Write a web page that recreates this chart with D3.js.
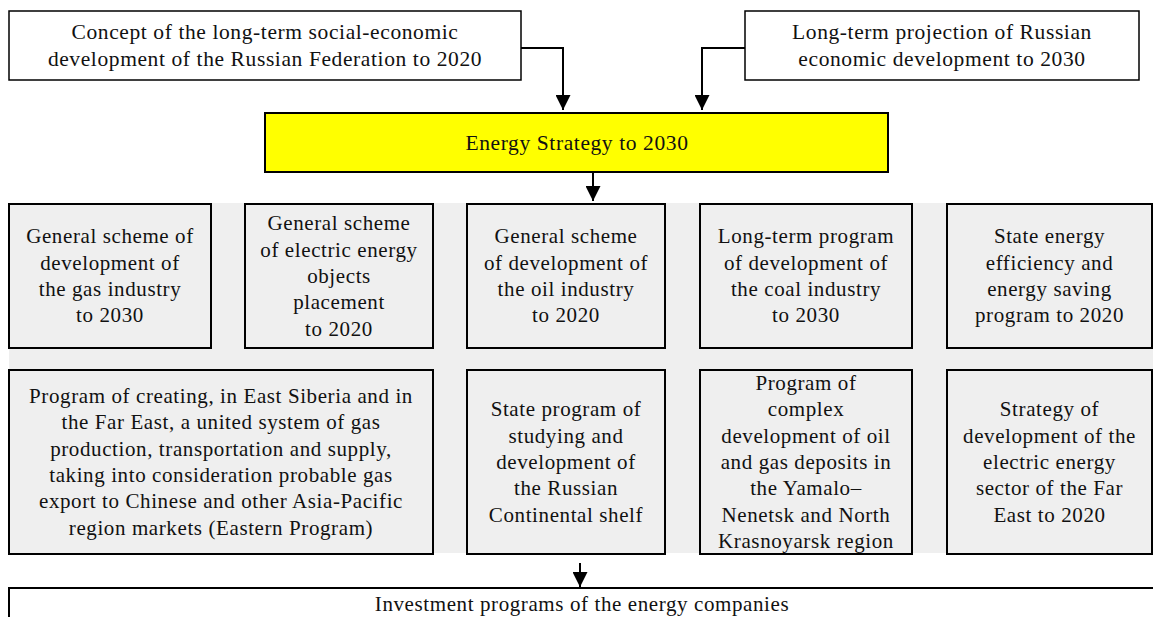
<!DOCTYPE html>
<html>
<head>
<meta charset="utf-8">
<script src="https://cdn.jsdelivr.net/npm/d3@7"></script>
<style>
  body { margin: 0; background: #fff; }
  text { font-family: "Liberation Serif", "DejaVu Serif", serif; fill: #111; letter-spacing: 0.6px; }
</style>
</head>
<body>
<div id="chart-area"></div>
<script>
const WIDTH = 1153
const HEIGHT = 617
const LINE = 26.3

// Texts
const sourceDocs = [
  "Concept of the long-term social-economic\ndevelopment of the Russian Federation to 2020",
  "Long-term projection of Russian\neconomic development to 2030"
]
const strategy = "Energy Strategy to 2030"
const schemes = [
  "General scheme of\ndevelopment of\nthe gas industry\nto 2030",
  "General scheme\nof electric energy\nobjects\nplacement\nto 2020",
  "General scheme\nof development of\nthe oil industry\nto 2020",
  "Long-term program\nof development of\nthe coal industry\nto 2030",
  "State energy\nefficiency and\nenergy saving\nprogram to 2020"
]
const programs = [
  "Program of creating, in East Siberia and in\nthe Far East, a united system of gas\nproduction, transportation and supply,\ntaking into consideration probable gas\nexport to Chinese and other Asia-Pacific\nregion markets (Eastern Program)",
  "State program of\nstudying and\ndevelopment of\nthe Russian\nContinental shelf",
  "Program of\ncomplex\ndevelopment of oil\nand gas deposits in\nthe Yamalo–\nNenetsk and North\nKrasnoyarsk region",
  "Strategy of\ndevelopment of the\nelectric energy\nsector of the Far\nEast to 2020"
]
const investment = "Investment programs of the energy companies"

// Layout (column edges)
const COLS = [[9, 211], [245, 433], [467, 665], [700, 912], [947, 1152]]
const ROW1 = [204, 348]
const ROW2 = [370, 554]

const svg = d3.select("#chart-area").append("svg")
  .attr("width", WIDTH)
  .attr("height", HEIGHT)

svg.append("defs").append("marker")
  .attr("id", "arrow")
  .attr("viewBox", "0 0 10 10")
  .attr("refX", 10).attr("refY", 5)
  .attr("markerWidth", 7.5).attr("markerHeight", 7.5)
  .attr("markerUnits", "strokeWidth")
  .attr("orient", "auto")
  .append("path")
  .attr("d", "M0,0 L10,5 L0,10 Z")
  .attr("fill", "#000")

function box(x0, y0, x1, y1, text, opts = {}) {
  svg.append("rect")
    .attr("x", x0).attr("y", y0)
    .attr("width", x1 - x0).attr("height", y1 - y0)
    .attr("fill", opts.fill || "#fff")
    .attr("stroke", "#000")
    .attr("stroke-width", opts.sw || 2)
  const lines = text.split("\n")
  const cy = opts.cy !== undefined ? opts.cy : (y0 + y1) / 2
  const cx = opts.cx !== undefined ? opts.cx : (x0 + x1) / 2
  const t = svg.append("text")
    .attr("text-anchor", "middle")
    .attr("font-size", opts.fs || "21px")
  lines.forEach((l, i) => {
    t.append("tspan")
      .attr("x", cx)
      .attr("y", cy + (i - (lines.length - 1) / 2) * LINE)
      .attr("dy", "0.33em")
      .text(l)
  })
}

function arrow(points) {
  svg.append("path")
    .attr("d", d3.line()(points))
    .attr("fill", "none")
    .attr("stroke", "#000")
    .attr("stroke-width", 2)
    .attr("marker-end", "url(#arrow)")
}

// Gray panel
svg.append("rect")
  .attr("x", 9).attr("y", 203)
  .attr("width", WIDTH - 9).attr("height", 553 - 203)
  .attr("fill", "#efefef")

// Top documents
box(9, 11, 521, 80, sourceDocs[0], { sw: 1.5, fs: "21.5px" })
box(745, 11, 1139, 80, sourceDocs[1], { sw: 1.5, fs: "21.5px" })
arrow([[521, 48], [563, 48], [563, 110]])
arrow([[745, 48], [702, 48], [702, 110]])

// Strategy
box(265, 113, 888, 172, strategy, { fill: "#ffff00", fs: "21.5px", cx: 577, cy: 143 })
arrow([[593, 172], [593, 201]])

// Schemes row
schemes.forEach((s, i) => {
  box(COLS[i][0], ROW1[0], COLS[i][1], ROW1[1], s, { fill: "#efefef", cy: 276 })
})

// Programs row
const progCols = [[COLS[0][0], COLS[1][1]], COLS[2], COLS[3], COLS[4]]
programs.forEach((s, i) => {
  box(progCols[i][0], ROW2[0], progCols[i][1], ROW2[1], s, { fill: "#efefef", cy: 462 })
})

// Investment
arrow([[580, 563], [580, 587]])
svg.append("rect")
  .attr("x", 9).attr("y", 588)
  .attr("width", WIDTH).attr("height", 60)
  .attr("fill", "#fff")
  .attr("stroke", "#000")
  .attr("stroke-width", 2)
svg.append("text")
  .attr("x", 582).attr("y", 604)
  .attr("dy", "0.33em")
  .attr("text-anchor", "middle")
  .attr("font-size", "21px")
  .text(investment)
</script>
</body>
</html>
